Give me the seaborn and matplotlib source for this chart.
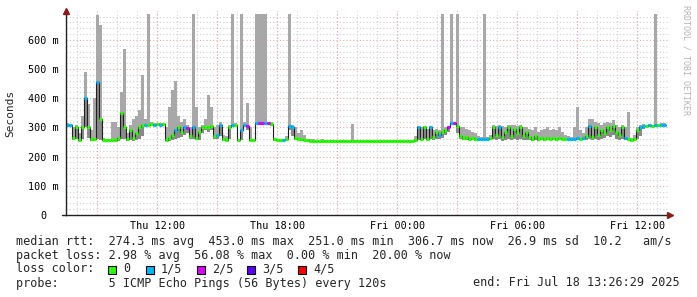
import numpy as np
import matplotlib
matplotlib.use("Agg")
import matplotlib.pyplot as plt
import seaborn as sns
from matplotlib.patches import Rectangle

# ---------------- data (hours since Thu 07:26:29, one bin = 9 minutes) -------------
step_h = 0.15
median_ms = [
    310, 310, 265, 300, 258, 300, 400, 300, 260, 262,
    455, 330, 258, 257, 257, 258, 258, 265, 350, 300,
    262, 290, 265, 280, 300, 310, 310, 310, 312, 310,
    312, 310, 312, 258, 265, 275, 290, 300, 285, 300,
    298, 270, 300, 265, 285, 300, 302, 300, 305, 270,
    275, 308, 260, 258, 300, 310, 310, 258, 290, 310,
    305, 258, 258, 315, 315, 315, 315, 315, 312, 260,
    258, 258, 257, 262, 305, 300, 265, 262, 262, 258,
    256, 255, 255, 254, 254, 255, 254, 253, 253, 254,
    254, 253, 253, 254, 253, 253, 252, 253, 253, 254,
    253, 253, 252, 253, 253, 254, 253, 253, 252, 253,
    253, 253, 254, 253, 253, 253, 258, 300, 262, 302,
    262, 300, 268, 285, 275, 285, 290, 300, 315, 315,
    305, 270, 265, 268, 262, 265, 260, 262, 262, 262,
    262, 265, 302, 275, 300, 268, 285, 300, 270, 295,
    280, 300, 270, 285, 268, 262, 270, 262, 265, 262,
    265, 262, 264, 262, 265, 262, 260, 262, 261, 262,
    265, 262, 265, 270, 305, 268, 300, 275, 290, 280,
    300, 290, 305, 285, 275, 300, 265, 262, 258, 262,
    290, 300, 305, 305, 308, 305, 308, 308, 310, 310,
]
smoke_hi_ms = [
    315, 312, 300, 310, 280, 340, 490, 380, 290, 400,
    685, 650, 265, 262, 262, 318, 318, 300, 420, 570,
    280, 310, 330, 340, 360, 480, 330, 690, 318, 315,
    316, 315, 316, 300, 370, 430, 460, 340, 320, 330,
    310, 300, 690, 370, 300, 310, 330, 410, 370, 300,
    310, 320, 275, 270, 310, 690, 315, 262, 690, 320,
    385, 300, 262, 690, 690, 690, 690, 320, 318, 265,
    262, 262, 262, 270, 690, 310, 300, 280, 290, 275,
    262, 260, 260, 258, 258, 260, 258, 257, 257, 258,
    258, 257, 257, 258, 257, 312, 256, 257, 257, 258,
    257, 257, 256, 257, 257, 258, 257, 257, 256, 257,
    257, 257, 258, 257, 257, 257, 270, 305, 300, 305,
    295, 305, 290, 295, 290, 690, 300, 305, 690, 320,
    690, 300, 300, 295, 290, 285, 280, 270, 268, 690,
    268, 275, 310, 305, 310, 305, 300, 310, 308, 310,
    305, 310, 300, 300, 295, 290, 300, 285, 290, 295,
    300, 290, 295, 290, 300, 285, 275, 270, 268, 300,
    370, 290, 280, 300, 330, 330, 320, 315, 310, 315,
    320, 315, 325, 310, 300, 310, 300, 353, 265, 275,
    300, 308, 312, 310, 312, 310, 690, 312, 314, 314,
]
smoke_lo_ms = [
    305, 300, 258, 262, 255, 260, 300, 265, 255, 255,
    260, 258, 255, 254, 254, 254, 255, 255, 260, 262,
    255, 258, 255, 258, 262, 270, 305, 305, 308, 306,
    308, 305, 306, 254, 255, 258, 262, 265, 268, 275,
    280, 260, 262, 258, 258, 280, 290, 285, 290, 262,
    262, 270, 255, 255, 260, 300, 300, 255, 258, 300,
    290, 255, 255, 310, 310, 310, 310, 310, 305, 255,
    255, 255, 254, 256, 290, 270, 258, 256, 255, 254,
    253, 252, 252, 251, 251, 252, 251, 250, 250, 251,
    251, 250, 250, 251, 250, 250, 249, 250, 250, 251,
    250, 250, 249, 250, 250, 251, 250, 250, 249, 250,
    250, 250, 251, 250, 250, 250, 254, 258, 256, 262,
    256, 260, 258, 260, 262, 265, 275, 285, 310, 310,
    280, 262, 258, 258, 256, 258, 255, 256, 256, 256,
    256, 258, 260, 258, 262, 255, 258, 262, 258, 260,
    258, 262, 258, 258, 256, 255, 256, 255, 256, 255,
    256, 256, 256, 255, 256, 256, 256, 257, 257, 256,
    258, 256, 256, 258, 262, 258, 262, 258, 262, 265,
    270, 268, 275, 262, 258, 262, 258, 256, 255, 256,
    262, 270, 295, 300, 300, 300, 302, 302, 305, 305,
]
loss_fifths = [
    1, 1, 0, 0, 0, 0, 1, 0, 0, 0,
    1, 0, 0, 0, 0, 0, 0, 0, 0, 0,
    0, 0, 0, 0, 0, 0, 1, 0, 0, 1,
    0, 1, 0, 0, 0, 0, 1, 0, 0, 1,
    2, 0, 1, 0, 0, 0, 0, 0, 0, 0,
    1, 1, 0, 0, 0, 1, 0, 0, 1, 1,
    2, 0, 0, 1, 2, 2, 1, 2, 0, 0,
    0, 0, 1, 0, 1, 1, 0, 0, 0, 0,
    0, 0, 0, 0, 0, 0, 0, 0, 0, 0,
    0, 0, 0, 0, 0, 0, 0, 0, 0, 0,
    0, 0, 0, 0, 0, 0, 0, 0, 0, 0,
    0, 0, 0, 0, 0, 0, 0, 1, 0, 0,
    0, 1, 0, 0, 1, 0, 0, 2, 1, 2,
    0, 0, 0, 0, 0, 0, 0, 1, 1, 1,
    1, 0, 0, 0, 1, 0, 0, 0, 0, 0,
    0, 0, 0, 0, 0, 0, 0, 0, 0, 0,
    0, 0, 0, 0, 0, 0, 0, 1, 1, 1,
    1, 0, 1, 0, 1, 0, 0, 0, 0, 0,
    0, 0, 0, 0, 0, 0, 1, 0, 0, 0,
    0, 1, 1, 0, 1, 0, 1, 0, 1, 1,
]
loss_labels = ["0", "1/5", "2/5", "3/5", "4/5"]
loss_colors = ["#26ff00", "#00b8ff", "#dd00ff", "#5e00ff", "#ff0000"]
xtick_hours = [4.5586, 10.5586, 16.5586, 22.5586, 28.5586]
xtick_labels = ["Thu 12:00", "Thu 18:00", "Fri 00:00", "Fri 06:00", "Fri 12:00"]
ytick_values = [0, 100, 200, 300, 400, 500, 600]
ytick_labels = ["0  ", "100 m", "200 m", "300 m", "400 m", "500 m", "600 m"]
legend_lines = [
    "median rtt:  274.3 ms avg  453.0 ms max  251.0 ms min  306.7 ms now  26.9 ms sd  10.2   am/s",
    "packet loss: 2.98 % avg  56.08 % max  0.00 % min  20.00 % now",
    "loss color:",
    "probe:       5 ICMP Echo Pings (56 Bytes) every 120s",
]
end_text = "end: Fri Jul 18 13:26:29 2025"

# ---------------- figure -------------------------------------------------------------
sns.set_style("white")
plt.rcParams["font.family"] = ["DejaVu Sans Mono", "DejaVu Sans"]

W, H = 697, 297
fig = plt.figure(figsize=(W / 100, H / 100), dpi=100)
fig.patch.set_facecolor("white")
ax = fig.add_axes([66 / W, (H - 215) / H, (670 - 66) / W, (215 - 11) / H])
ax.set_facecolor("white")

n = len(median_ms)
t = np.arange(n) * step_h
t_edges = np.append(t, n * step_h)
med = np.array(median_ms, float)
hi = np.array(smoke_hi_ms, float)
lo = np.array(smoke_lo_ms, float)

# smoke
ax.fill_between(t_edges, np.append(lo, lo[-1]), np.append(hi, hi[-1]),
                step="post", color="#a8a8a8", lw=0, zorder=2)
# darker inner smoke around median
ax.fill_between(t_edges, np.append(lo, lo[-1]), np.append(med, med[-1]),
                step="post", color="#707070", lw=0, zorder=2.5, alpha=0.55)

# median line (black, steps)
sns.lineplot(x=t_edges, y=np.append(med, med[-1]), drawstyle="steps-post",
             color="#202020", lw=0.8, ax=ax, zorder=3)
# loss colored bars
cols = [loss_colors[k] for k in loss_fifths]
ax.hlines(med, t, t + step_h, colors=cols, lw=2.3, zorder=4)

ax.set_xlim(0, 30.2)
ax.set_ylim(0, 204 / 0.29167)

# grids
minor_x = [0.5586 + k for k in range(30)]
major_x = [1.5586 + 3 * k for k in range(10)]
for xv in minor_x:
    ax.axvline(xv, color="#d0d0d0", lw=0.8, ls=(0, (1, 2)), zorder=1)
for xv in major_x:
    ax.axvline(xv, color="#e6a9a9", lw=0.8, ls=(0, (1, 2)), zorder=1.1)
for yv in range(20, 700, 20):
    if yv % 100:
        ax.axhline(yv, color="#d0d0d0", lw=0.8, ls=(0, (1, 2)), zorder=1)
for yv in range(100, 700, 100):
    ax.axhline(yv, color="#e6a9a9", lw=0.8, ls=(0, (1, 2)), zorder=1.1)

ax.set_xticks(xtick_hours)
ax.set_xticklabels(xtick_labels, fontsize=7.3)
ax.set_yticks(ytick_values)
ax.set_yticklabels(ytick_labels, fontsize=7.3)
ax.tick_params(axis="both", length=0, pad=4, colors="#000000")
ax.tick_params(axis="y", pad=5)
ax.set_xlabel("")
ax.set_ylabel("")

for s in ["top", "right"]:
    ax.spines[s].set_visible(False)
for s in ["left", "bottom"]:
    ax.spines[s].set_color("#202020")
    ax.spines[s].set_linewidth(1.0)
    ax.spines[s].set_zorder(5)
ax.plot([-0.2, 0], [0, 0], color="#202020", lw=1.0, clip_on=False, zorder=5)
ax.plot([0], [1.0], marker="^", ms=4.5, color="#8b1a1a", transform=ax.transAxes,
        clip_on=False, zorder=6)
ax.plot([1.0], [0], marker=">", ms=4.5, color="#8b1a1a", transform=ax.transAxes,
        clip_on=False, zorder=6)

fig.text(10 / W, 1 - 113 / H, "Seconds", rotation=90, ha="center", va="center",
         fontsize=8)
fig.text(686 / W, 1 - 60 / H, "RRDTOOL / TOBI OETIKER", rotation=270,
         ha="center", va="center", fontsize=6, color="#b4b4b4")

# legend block
ys = [241, 255, 269, 283]
for line, yv in zip(legend_lines, ys):
    fig.text(16 / W, 1 - yv / H, line, ha="left", va="center", fontsize=8.5)
fig.text(680 / W, 1 - 283 / H, end_text, ha="right", va="center", fontsize=8.5)

box_x = [108, 146, 197, 247, 298]
for bx, lab, c in zip(box_x, loss_labels, loss_colors):
    fig.patches.append(Rectangle((bx / W, 1 - 274 / H), 8 / W, 8.5 / H,
                                 transform=fig.transFigure, facecolor=c,
                                 edgecolor="black", lw=0.8))
    fig.text((bx + 15) / W, 1 - 269 / H, lab, ha="left", va="center", fontsize=8.5)

fig.savefig("out.png", dpi=100)
